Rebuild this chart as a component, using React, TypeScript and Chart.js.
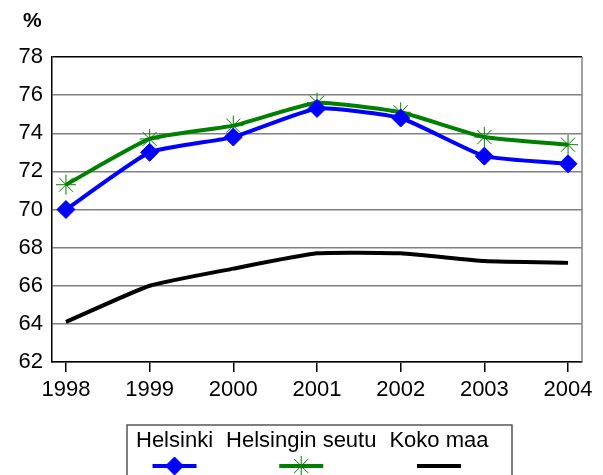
import React, { useEffect, useRef } from "react";
import { Chart, registerables } from "chart.js";

Chart.register(...registerables);

const years = [1998, 1999, 2000, 2001, 2002, 2003, 2004];
const helsinki = [70.0, 73.0, 73.8, 75.3, 74.8, 72.8, 72.4];
const helsinginSeutu = [71.3, 73.7, 74.4, 75.6, 75.1, 73.8, 73.4];
const kokoMaa = [64.1, 66.0, 66.9, 67.7, 67.7, 67.3, 67.2];
const seriesNames = ["Helsinki", "Helsingin seutu", "Koko maa"];
const yTicks = [62, 64, 66, 68, 70, 72, 74, 76, 78];
const unitLabel = "%";

const FONT = "'Liberation Sans', Arial, sans-serif";

const toPoints = (vals: number[]) => vals.map((v, i) => ({ x: years[i], y: v }));

function drawMarker(ctx: CanvasRenderingContext2D, style: string, r: number, color: string, bw: number, cx: number, cy: number) {
  ctx.save();
  ctx.fillStyle = color;
  ctx.strokeStyle = color;
  ctx.lineWidth = bw;
  if (style === "rectRot") {
    ctx.beginPath();
    ctx.moveTo(cx, cy - r);
    ctx.lineTo(cx + r, cy);
    ctx.lineTo(cx, cy + r);
    ctx.lineTo(cx - r, cy);
    ctx.closePath();
    ctx.fill();
    ctx.stroke();
  } else if (style === "star") {
    const d = r * Math.SQRT1_2;
    ctx.beginPath();
    ctx.moveTo(cx, cy - r);
    ctx.lineTo(cx, cy + r);
    ctx.moveTo(cx - r, cy);
    ctx.lineTo(cx + r, cy);
    ctx.moveTo(cx - d, cy - d);
    ctx.lineTo(cx + d, cy + d);
    ctx.moveTo(cx - d, cy + d);
    ctx.lineTo(cx + d, cy - d);
    ctx.stroke();
  }
  ctx.restore();
}

const extrasPlugin = {
  id: "extras",
  afterDraw(chart: any) {
    const ctx = chart.ctx as CanvasRenderingContext2D;
    const area = chart.chartArea;
    ctx.save();
    // right border
    ctx.strokeStyle = "#808080";
    ctx.lineWidth = 1.5;
    ctx.beginPath();
    ctx.moveTo(area.right, area.top);
    ctx.lineTo(area.right, area.bottom);
    ctx.stroke();
    // unit label
    ctx.fillStyle = "#000";
    ctx.font = `bold 21px ${FONT}`;
    ctx.textAlign = "left";
    ctx.textBaseline = "middle";
    ctx.fillText(unitLabel, 23, 21);
    // legend
    const boxL = 127, boxT = 425, boxR = 512;
    ctx.strokeStyle = "#555";
    ctx.lineWidth = 1.5;
    ctx.beginPath();
    ctx.moveTo(boxL, 480);
    ctx.lineTo(boxL, boxT);
    ctx.lineTo(boxR, boxT);
    ctx.lineTo(boxR, 480);
    ctx.stroke();
    ctx.font = `22px ${FONT}`;
    ctx.textAlign = "left";
    ctx.textBaseline = "middle";
    let x = 136;
    const gap = 13;
    chart.data.datasets.forEach((ds: any) => {
      const w = ctx.measureText(ds.label).width;
      ctx.fillStyle = "#000";
      ctx.fillText(ds.label, x, 441);
      const cx = x + w / 2;
      const cy = 466;
      ctx.strokeStyle = ds.borderColor;
      ctx.lineWidth = 4;
      ctx.beginPath();
      ctx.moveTo(cx - 22, cy);
      ctx.lineTo(cx + 22, cy);
      ctx.stroke();
      if (ds.pointRadius > 0) {
        drawMarker(ctx, ds.pointStyle, ds.pointRadius, ds.pointBorderColor, ds.pointBorderWidth, cx, cy);
      }
      x += w + gap;
    });
    ctx.restore();
  },
};

export default function App() {
  const ref = useRef<HTMLCanvasElement>(null);
  useEffect(() => {
    const canvas = ref.current!;
    const chart = new Chart(canvas, {
      type: "line",
      data: {
        datasets: [
          {
            label: seriesNames[0],
            data: toPoints(helsinki),
            borderColor: "#0000FF",
            backgroundColor: "#0000FF",
            borderWidth: 4,
            pointStyle: "rectRot",
            pointRadius: 9,
            pointBackgroundColor: "#0000FF",
            pointBorderColor: "#0000FF",
            pointBorderWidth: 1,
            tension: 0.15,
          },
          {
            label: seriesNames[1],
            data: toPoints(helsinginSeutu),
            borderColor: "#008000",
            backgroundColor: "#008000",
            borderWidth: 4,
            pointStyle: "star",
            pointRadius: 10,
            pointBackgroundColor: "#008000",
            pointBorderColor: "#008000",
            pointBorderWidth: 1,
            tension: 0.15,
          },
          {
            label: seriesNames[2],
            data: toPoints(kokoMaa),
            borderColor: "#000000",
            backgroundColor: "#000000",
            borderWidth: 4,
            pointRadius: 0,
            tension: 0.15,
          },
        ] as any,
      },
      options: {
        responsive: false,
        animation: false,
        layout: { padding: { top: 57, right: 21, left: 0, bottom: 68 } },
        plugins: {
          legend: { display: false },
          tooltip: { enabled: false },
        },
        scales: {
          x: {
            type: "linear",
            min: years[0] - 1 / 6,
            max: years[years.length - 1] + 1 / 6,
            afterBuildTicks: (scale: any) => {
              scale.ticks = years.map((v) => ({ value: v }));
            },
            afterFit: (scale: any) => {
              scale.height = 45;
            },
            grid: {
              drawOnChartArea: false,
              drawTicks: true,
              tickLength: 10,
              color: "#000",
              lineWidth: 1.5,
            },
            border: { color: "#000", width: 1.5 },
            ticks: {
              color: "#000",
              font: { family: FONT, size: 22 },
              padding: 5,
              maxRotation: 0,
              autoSkip: false,
              callback: (v: any) => String(v),
            },
          },
          y: {
            min: yTicks[0],
            max: yTicks[yTicks.length - 1],
            afterBuildTicks: (scale: any) => {
              scale.ticks = yTicks.map((v) => ({ value: v }));
            },
            afterFit: (scale: any) => {
              scale.width = 52;
            },
            grid: {
              drawTicks: false,
              color: (c: any) => (c.tick && c.tick.value === 78 ? "#000" : "#808080"),
              lineWidth: 1.5,
            },
            border: { color: "#000", width: 1.5 },
            ticks: {
              color: "#000",
              font: { family: FONT, size: 22 },
              padding: 9,
              callback: (v: any) => String(v),
            },
          },
        },
      } as any,
      plugins: [extrasPlugin],
    });
    return () => chart.destroy();
  }, []);
  return (
    <div style={{ position: "absolute", left: 0, top: 0, width: 603, height: 475, background: "#fff" }}>
      <canvas ref={ref} width={603} height={475} style={{ display: "block" }} />
    </div>
  );
}
